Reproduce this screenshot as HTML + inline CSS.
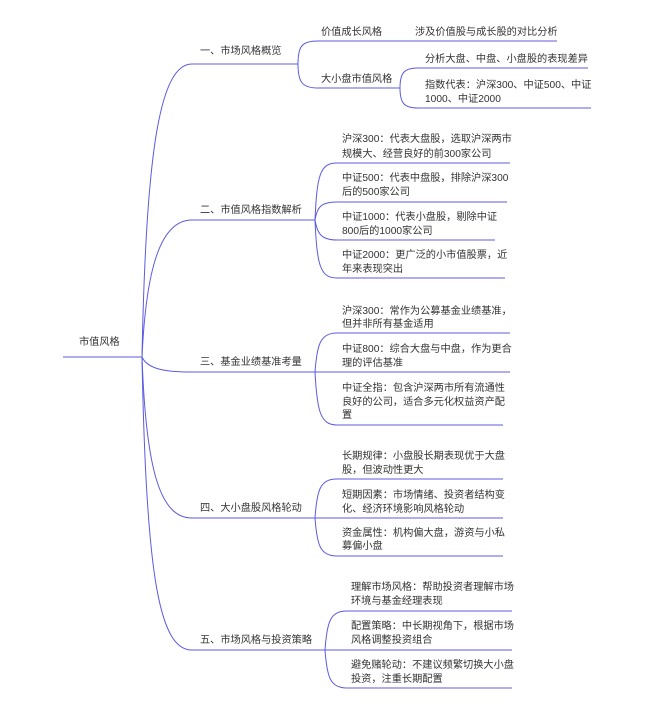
<!DOCTYPE html>
<html><head><meta charset="utf-8"><style>
html,body{margin:0;padding:0;background:#fff;}
svg{display:block}
text{font-family:"Liberation Sans","Noto Sans CJK SC",sans-serif;font-size:10.2px;fill:#333;}
path{fill:none;stroke:#5b5be0;stroke-width:1}
</style></head><body>
<svg width="655" height="722" viewBox="0 0 655 722" xmlns="http://www.w3.org/2000/svg">
<path d="M63,357 H142"/>
<text x="79" y="345">市值风格</text>
<path d="M142,357 C146,150 160,64 192,64 H298"/>
<path d="M142,357 C146,270 160,220 192,220 H315"/>
<path d="M142,357 C148,370 168,372 192,372 H315"/>
<path d="M142,357 C146,470 160,518 192,518 H315"/>
<path d="M142,357 C146,580 160,650 192,650 H325"/>
<text x="200" y="54">一、市场风格概览</text>
<text x="200" y="213">二、市值风格指数解析</text>
<text x="200" y="365">三、基金业绩基准考量</text>
<text x="200" y="511">四、大小盘股风格轮动</text>
<text x="200" y="643">五、市场风格与投资策略</text>
<path d="M298,64 C298,46 302,41 318,41 H557"/>
<path d="M298,64 C298,82 302,88 318,88 H400"/>
<text x="321" y="35">价值成长风格</text>
<text x="415" y="35">涉及价值股与成长股的对比分析</text>
<text x="321" y="82">大小盘市值风格</text>
<path d="M400,88 C400,73 404,68 418,68 H588"/>
<path d="M400,88 C400,103 404,108 418,108 H591"/>
<text x="425" y="62">分析大盘、中盘、小盘股的表现差异</text>
<text x="425" y="88">指数代表：沪深300、中证500、中证</text>
<text x="425" y="102">1000、中证2000</text>
<path d="M315,220 C317,175 320,163 337,163 H510"/>
<path d="M315,220 C317,208 320,202 337,202 H507"/>
<path d="M315,220 C317,232 320,240 337,240 H495"/>
<path d="M315,220 C317,265 320,278 337,278 H505"/>
<text x="342" y="142">沪深300：代表大盘股，选取沪深两市</text>
<text x="342" y="157">规模大、经营良好的前300家公司</text>
<text x="342" y="181">中证500：代表中盘股，排除沪深300</text>
<text x="342" y="195">后的500家公司</text>
<text x="342" y="220">中证1000：代表小盘股，剔除中证</text>
<text x="342" y="234">800后的1000家公司</text>
<text x="342" y="258">中证2000：更广泛的小市值股票，近</text>
<text x="342" y="272">年来表现突出</text>
<path d="M315,372 C317,345 320,333 337,333 H510"/>
<path d="M315,372 H510"/>
<path d="M315,372 C317,410 320,425 337,425 H503"/>
<text x="342" y="314">沪深300：常作为公募基金业绩基准，</text>
<text x="342" y="327">但并非所有基金适用</text>
<text x="342" y="352">中证800：综合大盘与中盘，作为更合</text>
<text x="342" y="366">理的评估基准</text>
<text x="342" y="391">中证全指：包含沪深两市所有流通性</text>
<text x="342" y="405">良好的公司，适合多元化权益资产配</text>
<text x="342" y="418">置</text>
<path d="M315,518 C317,490 320,479 337,479 H503"/>
<path d="M315,518 H503"/>
<path d="M315,518 C317,545 320,556 337,556 H503"/>
<text x="342" y="459">长期规律：小盘股长期表现优于大盘</text>
<text x="342" y="473">股，但波动性更大</text>
<text x="342" y="498">短期因素：市场情绪、投资者结构变</text>
<text x="342" y="512">化、经济环境影响风格轮动</text>
<text x="342" y="536">资金属性：机构偏大盘，游资与小私</text>
<text x="342" y="549">募偏小盘</text>
<path d="M325,650 C327,622 330,611 347,611 H512"/>
<path d="M325,650 H512"/>
<path d="M325,650 C327,677 330,688 347,688 H512"/>
<text x="351" y="590">理解市场风格：帮助投资者理解市场</text>
<text x="351" y="604">环境与基金经理表现</text>
<text x="351" y="629">配置策略：中长期视角下，根据市场</text>
<text x="351" y="643">风格调整投资组合</text>
<text x="351" y="668">避免赌轮动：不建议频繁切换大小盘</text>
<text x="351" y="682">投资，注重长期配置</text>
</svg>
</body></html>
